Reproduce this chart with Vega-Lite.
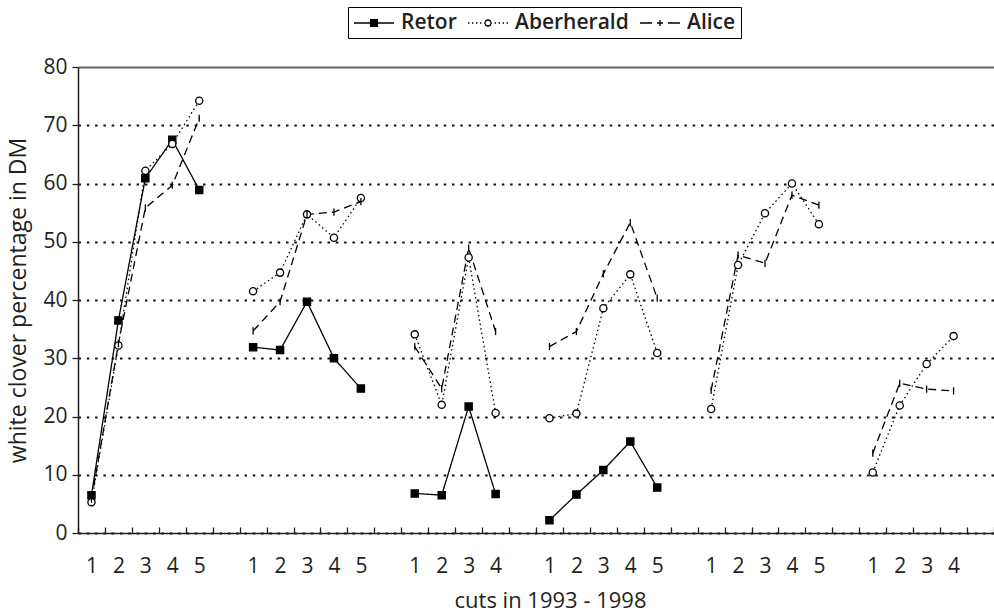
{
  "$schema": "https://vega.github.io/schema/vega-lite/v6.json",
  "width": 916,
  "height": 466,
  "autosize": {"type": "none"},
  "padding": {"left": 78, "top": 67, "right": 0, "bottom": 80},
  "background": "white",
  "config": {
    "view": {"stroke": null},
    "font": "Open Sans",
    "axis": {"labelFont": "Open Sans", "titleFont": "Open Sans", "labelColor": "#231f20", "titleColor": "#231f20"}
  },
  "data": {
    "values": [
      {"slot": "1993|1", "year": 1993, "variety": "Retor", "pct": 6.5},
      {"slot": "1993|2", "year": 1993, "variety": "Retor", "pct": 36.5},
      {"slot": "1993|3", "year": 1993, "variety": "Retor", "pct": 60.9},
      {"slot": "1993|4", "year": 1993, "variety": "Retor", "pct": 67.5},
      {"slot": "1993|5", "year": 1993, "variety": "Retor", "pct": 58.9},
      {"slot": "1994|1", "year": 1994, "variety": "Retor", "pct": 31.9},
      {"slot": "1994|2", "year": 1994, "variety": "Retor", "pct": 31.4},
      {"slot": "1994|3", "year": 1994, "variety": "Retor", "pct": 39.7},
      {"slot": "1994|4", "year": 1994, "variety": "Retor", "pct": 30.0},
      {"slot": "1994|5", "year": 1994, "variety": "Retor", "pct": 24.8},
      {"slot": "1995|1", "year": 1995, "variety": "Retor", "pct": 6.8},
      {"slot": "1995|2", "year": 1995, "variety": "Retor", "pct": 6.5},
      {"slot": "1995|3", "year": 1995, "variety": "Retor", "pct": 21.7},
      {"slot": "1995|4", "year": 1995, "variety": "Retor", "pct": 6.7},
      {"slot": "1996|1", "year": 1996, "variety": "Retor", "pct": 2.2},
      {"slot": "1996|2", "year": 1996, "variety": "Retor", "pct": 6.6},
      {"slot": "1996|3", "year": 1996, "variety": "Retor", "pct": 10.8},
      {"slot": "1996|4", "year": 1996, "variety": "Retor", "pct": 15.7},
      {"slot": "1996|5", "year": 1996, "variety": "Retor", "pct": 7.8},
      {"slot": "1993|1", "year": 1993, "variety": "Aberherald", "pct": 5.3},
      {"slot": "1993|2", "year": 1993, "variety": "Aberherald", "pct": 32.2},
      {"slot": "1993|3", "year": 1993, "variety": "Aberherald", "pct": 62.2},
      {"slot": "1993|4", "year": 1993, "variety": "Aberherald", "pct": 66.8},
      {"slot": "1993|5", "year": 1993, "variety": "Aberherald", "pct": 74.2},
      {"slot": "1994|1", "year": 1994, "variety": "Aberherald", "pct": 41.5},
      {"slot": "1994|2", "year": 1994, "variety": "Aberherald", "pct": 44.7},
      {"slot": "1994|3", "year": 1994, "variety": "Aberherald", "pct": 54.7},
      {"slot": "1994|4", "year": 1994, "variety": "Aberherald", "pct": 50.7},
      {"slot": "1994|5", "year": 1994, "variety": "Aberherald", "pct": 57.5},
      {"slot": "1995|1", "year": 1995, "variety": "Aberherald", "pct": 34.1},
      {"slot": "1995|2", "year": 1995, "variety": "Aberherald", "pct": 22.0},
      {"slot": "1995|3", "year": 1995, "variety": "Aberherald", "pct": 47.3},
      {"slot": "1995|4", "year": 1995, "variety": "Aberherald", "pct": 20.6},
      {"slot": "1996|1", "year": 1996, "variety": "Aberherald", "pct": 19.7},
      {"slot": "1996|2", "year": 1996, "variety": "Aberherald", "pct": 20.5},
      {"slot": "1996|3", "year": 1996, "variety": "Aberherald", "pct": 38.6},
      {"slot": "1996|4", "year": 1996, "variety": "Aberherald", "pct": 44.4},
      {"slot": "1996|5", "year": 1996, "variety": "Aberherald", "pct": 30.9},
      {"slot": "1997|1", "year": 1997, "variety": "Aberherald", "pct": 21.3},
      {"slot": "1997|2", "year": 1997, "variety": "Aberherald", "pct": 46.0},
      {"slot": "1997|3", "year": 1997, "variety": "Aberherald", "pct": 54.9},
      {"slot": "1997|4", "year": 1997, "variety": "Aberherald", "pct": 60.0},
      {"slot": "1997|5", "year": 1997, "variety": "Aberherald", "pct": 53.0},
      {"slot": "1998|1", "year": 1998, "variety": "Aberherald", "pct": 10.4},
      {"slot": "1998|2", "year": 1998, "variety": "Aberherald", "pct": 21.9},
      {"slot": "1998|3", "year": 1998, "variety": "Aberherald", "pct": 29.0},
      {"slot": "1998|4", "year": 1998, "variety": "Aberherald", "pct": 33.8},
      {"slot": "1993|1", "year": 1993, "variety": "Alice", "pct": 5.8},
      {"slot": "1993|2", "year": 1993, "variety": "Alice", "pct": 32.5},
      {"slot": "1993|3", "year": 1993, "variety": "Alice", "pct": 55.8},
      {"slot": "1993|4", "year": 1993, "variety": "Alice", "pct": 59.7},
      {"slot": "1993|5", "year": 1993, "variety": "Alice", "pct": 71.2},
      {"slot": "1994|1", "year": 1994, "variety": "Alice", "pct": 34.7},
      {"slot": "1994|2", "year": 1994, "variety": "Alice", "pct": 39.7},
      {"slot": "1994|3", "year": 1994, "variety": "Alice", "pct": 54.7},
      {"slot": "1994|4", "year": 1994, "variety": "Alice", "pct": 55.1},
      {"slot": "1994|5", "year": 1994, "variety": "Alice", "pct": 56.9},
      {"slot": "1995|1", "year": 1995, "variety": "Alice", "pct": 32.0},
      {"slot": "1995|2", "year": 1995, "variety": "Alice", "pct": 24.8},
      {"slot": "1995|3", "year": 1995, "variety": "Alice", "pct": 48.9},
      {"slot": "1995|4", "year": 1995, "variety": "Alice", "pct": 34.6},
      {"slot": "1996|1", "year": 1996, "variety": "Alice", "pct": 32.0},
      {"slot": "1996|2", "year": 1996, "variety": "Alice", "pct": 34.6},
      {"slot": "1996|3", "year": 1996, "variety": "Alice", "pct": 44.5},
      {"slot": "1996|4", "year": 1996, "variety": "Alice", "pct": 53.3},
      {"slot": "1996|5", "year": 1996, "variety": "Alice", "pct": 40.3},
      {"slot": "1997|1", "year": 1997, "variety": "Alice", "pct": 24.5},
      {"slot": "1997|2", "year": 1997, "variety": "Alice", "pct": 47.7},
      {"slot": "1997|3", "year": 1997, "variety": "Alice", "pct": 46.3},
      {"slot": "1997|4", "year": 1997, "variety": "Alice", "pct": 58.0},
      {"slot": "1997|5", "year": 1997, "variety": "Alice", "pct": 56.3},
      {"slot": "1998|1", "year": 1998, "variety": "Alice", "pct": 13.7},
      {"slot": "1998|2", "year": 1998, "variety": "Alice", "pct": 25.7},
      {"slot": "1998|3", "year": 1998, "variety": "Alice", "pct": 24.7},
      {"slot": "1998|4", "year": 1998, "variety": "Alice", "pct": 24.4}
    ]
  },
  "encoding": {
    "x": {
      "field": "slot",
      "type": "nominal",
      "scale": {
        "type": "band",
        "paddingInner": 0,
        "paddingOuter": 0,
        "domain": [
          "1993|1", "1993|2", "1993|3", "1993|4", "1993|5", "g1",
          "1994|1", "1994|2", "1994|3", "1994|4", "1994|5", "g2",
          "1995|1", "1995|2", "1995|3", "1995|4", "g3",
          "1996|1", "1996|2", "1996|3", "1996|4", "1996|5", "g4",
          "1997|1", "1997|2", "1997|3", "1997|4", "1997|5", "g5",
          "1998|1", "1998|2", "1998|3", "1998|4", "g6"
        ]
      },
      "axis": {
        "title": "cuts in 1993 - 1998",
        "titleFontSize": 22,
        "titleFontWeight": 500,
        "titleX": 472,
        "titleY": 67,
        "titleBaseline": "middle",
        "labelExpr": "isString(datum.value) && indexof(datum.value, '|') >= 0 ? split(datum.value, '|')[1] : ''",
        "labelAngle": 0,
        "labelFontSize": 21,
        "labelPadding": 28,
        "tickBand": "extent",
        "tickSize": -6,
        "tickColor": "#231f20",
        "tickWidth": 1.3,
        "domainColor": "#231f20",
        "domainWidth": 1.5,
        "grid": false
      }
    },
    "y": {
      "field": "pct",
      "type": "quantitative",
      "scale": {"domain": [0, 80], "nice": false},
      "axis": {
        "title": "white clover percentage in DM",
        "titleFontSize": 23,
        "titleFontWeight": 500,
        "titleX": -60,
        "titleBaseline": "middle",
        "values": [0, 10, 20, 30, 40, 50, 60, 70, 80],
        "labelFontSize": 21,
        "labelPadding": 5,
        "tickSize": 6,
        "tickColor": "#231f20",
        "tickWidth": 1.3,
        "domainColor": "#231f20",
        "domainWidth": 1.5,
        "grid": true,
        "gridColor": {"condition": {"test": "datum.value === 80", "value": "#666666"}, "value": "#111111"},
        "gridDash": {"condition": {"test": "datum.value === 80", "value": []}, "value": [2.5, 5.8]},
        "gridWidth": 2
      }
    }
  },
  "layer": [
    {
      "mark": {"type": "line", "color": "black", "strokeWidth": 1.3},
      "encoding": {
        "detail": {"field": "year", "type": "nominal"},
        "strokeDash": {
          "field": "variety",
          "type": "nominal",
          "scale": {"domain": ["Retor", "Aberherald", "Alice"], "range": [[1, 0], [1.5, 3], [8, 5]]},
          "legend": null
        }
      }
    },
    {
      "mark": {"type": "point", "filled": false, "stroke": "black", "strokeWidth": 1.3, "opacity": 1},
      "encoding": {
        "shape": {
          "field": "variety",
          "type": "nominal",
          "scale": {"domain": ["Retor", "Aberherald", "Alice"], "range": ["square", "circle", "M0,-1V1"]},
          "legend": null
        },
        "fill": {
          "field": "variety",
          "type": "nominal",
          "scale": {"domain": ["Retor", "Aberherald", "Alice"], "range": ["black", "white", "white"]},
          "legend": null
        },
        "size": {"value": 52}
      }
    },
    {
      "transform": [{"filter": "false"}],
      "mark": {"type": "point", "filled": false, "stroke": "black", "strokeWidth": 1.3, "opacity": 1},
      "encoding": {
        "shape": {
          "field": "variety",
          "type": "nominal",
          "scale": {
            "domain": ["Retor", "Aberherald", "Alice"],
            "range": [
              "M-1,0H3M0.66,-0.34H1.34V0.34H0.66ZM0.66,-0.24H1.34M0.66,-0.12H1.34M0.66,0H1.34M0.66,0.12H1.34M0.66,0.24H1.34",
              "M-1,0H-0.86M-0.6,0H-0.46M-0.2,0H-0.06M0.2,0H0.34M1.66,0H1.8M2.06,0H2.2M2.46,0H2.6M2.86,0H3M0.68,0L0.78,-0.22L1,-0.32L1.22,-0.22L1.32,0L1.22,0.22L1,0.32L0.78,0.22Z",
              "M-1,0H0.2M0.7,0H1.3M1.8,0H3M1,-0.3V0.3"
            ]
          },
          "legend": {
            "title": null,
            "orient": "none",
            "direction": "horizontal",
            "legendX": 270,
            "legendY": -60,
            "padding": 5,
            "strokeColor": "black",
            "fillColor": "white",
            "symbolSize": 400,
            "symbolStrokeWidth": 1.3,
            "symbolStrokeColor": "black",
            "symbolFillColor": "transparent",
            "labelFontSize": 21,
            "labelFontWeight": 600,
            "labelColor": "#231f20",
            "labelOffset": 26,
            "columnPadding": 8
          }
        }
      }
    }
  ],
  "resolve": {"scale": {"shape": "independent"}}
}
